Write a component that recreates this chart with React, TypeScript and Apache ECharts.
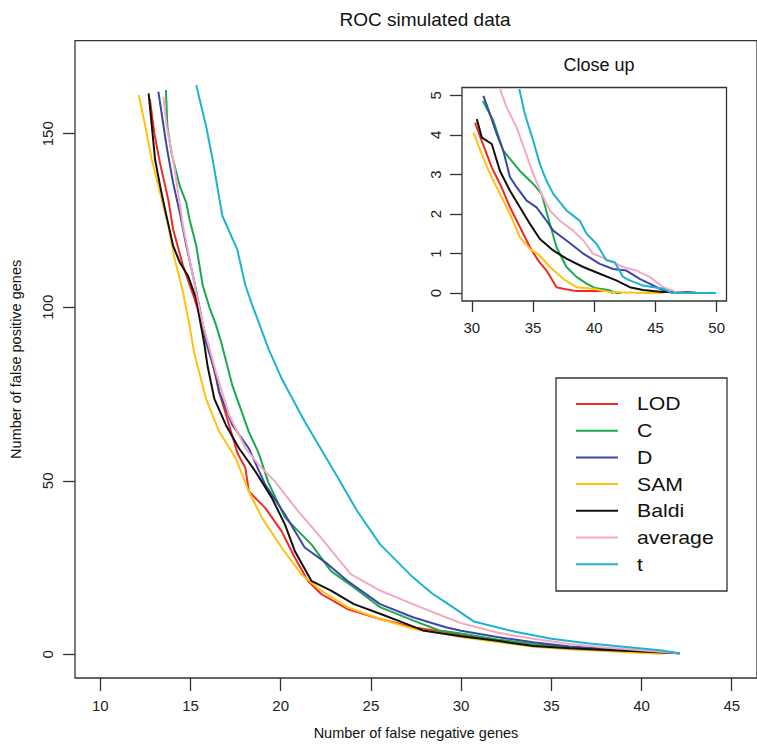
import React, { useEffect, useRef } from "react";
import * as echarts from "echarts";

const FONT = "Liberation Sans, Arial, Helvetica, sans-serif";

const seriesNames = ["LOD", "C", "D", "SAM", "Baldi", "average", "t"];
const seriesColors = ["#EE2A24", "#1BA94C", "#3A47A6", "#FFC20E", "#111111", "#F5A9BE", "#1CB3CF"];

// Main plot: [false negatives, false positives]
const mainLOD = [[12.75,160],[13.0,150],[13.31,141.6],[13.77,131],[14.04,122.4],[14.59,111.9],[15.23,102.4],[15.68,94.7],[16.14,86],[16.59,75.6],[17.14,66.1],[17.6,58],[18.05,53.6],[18.23,47],[19.14,42.2],[20.05,35.5],[20.78,27.9],[21.51,21.2],[22.24,17.4],[23.69,13.1],[25.51,10.2],[27.33,7.8],[29.15,6.4],[30,5.5],[32,4],[34,2.5],[36,1.6],[38,1.2],[40,0.8],[42.1,0.3]];
const mainC = [[13.64,162.6],[13.72,152.1],[13.95,144.4],[14.41,134.9],[14.77,130.1],[14.95,125.3],[15.32,117.7],[15.68,106.3],[16.05,100],[16.41,95],[16.7,90],[17.32,77.5],[18.23,64.2],[18.78,58],[19.32,49.5],[20.24,39.4],[21.7,31.7],[22.79,24],[24.06,19.3],[25.51,13.6],[27.33,9.8],[28.79,6.9],[30,6],[32,4.3],[34,3],[36,2],[38,1.4],[40,0.9],[42.1,0.3]];
const mainD = [[13.22,162.1],[13.4,155.9],[13.68,146.3],[14.04,135.8],[14.41,127.2],[14.77,117.7],[15.14,109.1],[15.5,100],[15.86,90],[16.41,80.4],[16.59,75.6],[17.32,66.1],[18.23,59.4],[19.14,48.9],[20.24,40.3],[21.33,30.8],[22.61,26],[23.69,21.2],[25.51,14.5],[27.33,10.7],[29.15,7.8],[30,6.8],[32,5],[34,3.5],[36,2.3],[38,1.6],[40,1.0],[42.1,0.3]];
const mainSAM = [[12.13,161.2],[12.5,152.1],[12.86,142.5],[13.32,132.9],[13.77,123.4],[14.13,113.8],[14.59,104.3],[14.95,94.7],[15.2,87],[15.86,73.7],[16.59,64.2],[17.5,56.6],[18.23,47],[18.96,39.4],[20.05,30.8],[21.14,23.1],[22.24,18.4],[23.69,13.6],[25.51,10.2],[27.33,7.4],[29.15,5.9],[30,5],[32,3.6],[34,2.2],[36,1.5],[38,1.0],[40,0.4],[41.2,0.2]];
const mainBaldi = [[12.68,161.6],[12.86,152.1],[13.04,142.5],[13.32,134.9],[13.59,128.2],[14.04,117.7],[14.41,112.9],[14.86,109.1],[15.32,102.4],[15.5,97],[15.75,90],[15.95,83],[16.32,73.7],[16.96,66.1],[17.69,59.4],[18.6,52.7],[19.51,45.1],[20.24,37.4],[20.78,29.8],[21.7,21.2],[22.79,18.4],[24.06,14.5],[25.51,11.7],[26.97,8.8],[27.88,6.9],[29.15,5.9],[30,5.2],[32,3.9],[34,2.4],[36,1.8],[38,1.3],[40,0.8],[42.1,0.3]];
const mainAverage = [[13.5,160.7],[13.68,152.1],[14.04,142.5],[14.32,132.9],[14.59,123.4],[14.95,113.8],[15.32,104.3],[15.69,95],[16.41,81.4],[17.14,69],[18.05,59.4],[18.78,54.6],[19.69,49.8],[20.96,41.3],[22.24,33.6],[23.88,23.1],[25.51,18.4],[27.33,14.5],[29.15,10.7],[30,9],[32,6.3],[34,4.5],[36,3],[38,2],[40,1.2],[42.1,0.3]];
const mainT = [[15.32,164],[15.87,152.1],[16.23,142.5],[16.77,126.3],[17.59,116.7],[18.05,106.2],[18.4,101],[18.9,94],[19.32,88.1],[20.05,79.5],[21.33,67.1],[22.97,52.7],[24.24,41.3],[25.51,31.7],[27.33,22.2],[28.43,17.4],[29.15,15],[30.7,9.5],[33,6.5],[35,4.5],[37,3.2],[39,2.2],[41,1.2],[42.1,0.3]];

// Close-up inset
const zoomLOD = [[30.27,4.31],[30.81,3.85],[31.63,3.18],[32.44,2.67],[33.12,2.17],[33.93,1.67],[34.75,1.16],[35.43,0.82],[36.1,0.57],[36.92,0.15],[37.46,0.11],[38.55,0.05],[41.26,0.05],[41.54,0]];
const zoomC = [[30.9,4.86],[31.76,4.36],[32.57,3.6],[33.93,3.09],[35.02,2.76],[35.7,2.51],[36.38,1.75],[36.92,1.16],[37.73,0.66],[38.55,0.41],[39.37,0.24],[40.04,0.13],[41.26,0.07],[41.8,0],[42.2,0]];
const zoomD = [[30.95,4.99],[31.49,4.52],[32.04,4.02],[32.57,3.6],[33.12,2.93],[33.66,2.68],[34.48,2.34],[35.29,2.17],[36.1,1.83],[36.65,1.58],[37.73,1.33],[39.1,1.0],[40.45,0.74],[41.54,0.61],[42.62,0.57],[43.71,0.36],[44.52,0.24],[45.34,0.11],[46.4,0]];
const zoomSAM = [[30.14,4.06],[30.81,3.52],[31.49,3.01],[32.3,2.51],[33.12,2.0],[33.93,1.41],[34.75,1.12],[35.56,0.95],[36.38,0.66],[37.46,0.36],[38.55,0.15],[39.9,0.11],[41.26,0.03],[43.98,0],[45.6,0]];
const zoomBaldi = [[30.41,4.4],[30.81,3.94],[31.63,3.77],[32.3,3.09],[33.12,2.59],[33.93,2.17],[34.75,1.75],[35.56,1.37],[36.65,1.08],[37.73,0.87],[39.1,0.66],[40.45,0.49],[41.8,0.32],[42.9,0.15],[43.98,0.08],[45.61,0.03],[47.5,0.03],[48.46,0]];
const zoomAverage = [[32.3,5.16],[32.85,4.69],[33.66,4.19],[34.34,3.6],[35.02,3.01],[35.7,2.51],[36.38,2.09],[37.19,1.83],[38.28,1.58],[39.1,1.33],[39.9,1.0],[41.26,0.82],[42.35,0.66],[43.44,0.57],[44.52,0.41],[45.61,0.15],[46.7,0.03],[48.05,0]];
const zoomT = [[33.88,5.16],[34.34,4.52],[35.02,3.85],[35.56,3.26],[36.1,2.84],[36.65,2.51],[37.73,2.09],[38.28,1.96],[38.82,1.83],[39.37,1.5],[40.18,1.25],[40.99,0.83],[41.67,0.78],[42.35,0.41],[42.9,0.32],[43.98,0.19],[45.61,0.11],[46.4,0],[49.95,0]];

const mainData = [mainLOD, mainC, mainD, mainSAM, mainBaldi, mainAverage, mainT];
const zoomData = [zoomLOD, zoomC, zoomD, zoomSAM, zoomBaldi, zoomAverage, zoomT];

const xTicksMain = [10, 15, 20, 25, 30, 35, 40, 45];
const yTicksMain = [0, 50, 100, 150];
const xTicksZoom = [30, 35, 40, 45, 50];
const yTicksZoom = [0, 1, 2, 3, 4, 5];

const AX = "#333";

function axisCommon(ticks: number[], tickLen: number, margin: number, rotate = 0) {
  return {
    axisLine: { show: false, onZero: false },
    splitLine: { show: false },
    axisTick: { show: true, customValues: ticks, length: tickLen, lineStyle: { color: AX, width: 1.3 } },
    axisLabel: { customValues: ticks, margin, rotate, fontSize: 15, color: "#222", fontFamily: FONT },
  };
}

export default function App() {
  const ref = useRef<HTMLDivElement>(null);
  useEffect(() => {
    if (!ref.current) return;
    const chart = echarts.init(ref.current, null, { renderer: "svg" });

    const legendTop = 378;
    const rowGap = 26.7;
    const legendGraphics: any[] = [
      {
        type: "rect",
        shape: { x: 556, y: legendTop, width: 171, height: 213 },
        style: { fill: "#fff", stroke: AX, lineWidth: 1.3 },
        z: 10,
      },
    ];
    seriesNames.forEach((n, i) => {
      const y = legendTop + 26 + i * rowGap;
      legendGraphics.push({
        type: "line",
        shape: { x1: 576, y1: y, x2: 618, y2: y },
        style: { stroke: seriesColors[i], lineWidth: 2 },
        z: 11,
      });
      legendGraphics.push({
        type: "text",
        x: 637,
        y,
        scaleX: 1.18,
        style: { text: n, fontSize: 18, fontFamily: FONT, fill: "#111", verticalAlign: "middle", align: "left" },
        z: 11,
      });
    });

    const series: any[] = [];
    seriesNames.forEach((n, i) => {
      series.push({
        name: n,
        type: "line",
        xAxisIndex: 0,
        yAxisIndex: 0,
        data: mainData[i],
        showSymbol: false,
        symbol: "none",
        lineStyle: { color: seriesColors[i], width: 2 },
        itemStyle: { color: seriesColors[i] },
        clip: true,
      });
      series.push({
        name: n + " (close up)",
        type: "line",
        xAxisIndex: 1,
        yAxisIndex: 1,
        data: zoomData[i],
        showSymbol: false,
        symbol: "none",
        lineStyle: { color: seriesColors[i], width: 2 },
        itemStyle: { color: seriesColors[i] },
        clip: true,
      });
    });

    chart.setOption({
      animation: false,
      backgroundColor: "#fff",
      title: [
        {
          text: "ROC simulated data",
          left: 420,
          top: 5,
          textAlign: "center",
          textStyle: { fontSize: 19, fontWeight: "normal", color: "#111", fontFamily: FONT },
        },
        {
          text: "Close up",
          left: 594,
          top: 51,
          textAlign: "center",
          textStyle: { fontSize: 18, fontWeight: "normal", color: "#111", fontFamily: FONT },
        },
      ],
      grid: [
        { left: 72.5, top: 40.7, right: -9.3, bottom: 64.5, show: true, borderColor: AX, borderWidth: 1.3, backgroundColor: "transparent" },
        { left: 462, top: 87.5, right: 30.5, bottom: 444, show: true, borderColor: AX, borderWidth: 1.3, backgroundColor: "#fff" },
      ],
      xAxis: [
        {
          type: "value",
          gridIndex: 0,
          position: "bottom",
          min: 8.6,
          max: 46.4,
          ...axisCommon(xTicksMain, 13, 20),
          name: "Number of false negative genes",
          nameLocation: "middle",
          nameGap: 47,
          nameTextStyle: { fontSize: 14.5, color: "#111", fontFamily: FONT },
        },
        {
          type: "value",
          gridIndex: 1,
          position: "bottom",
          min: 29.2,
          max: 50.8,
          ...axisCommon(xTicksZoom, 11, 19),
        },
      ],
      yAxis: [
        {
          type: "value",
          gridIndex: 0,
          position: "left",
          min: -6.8,
          max: 176.8,
          ...axisCommon(yTicksMain, 12, 20, 90),
          name: "Number of false positive genes",
          nameLocation: "middle",
          nameGap: 52,
          nameTextStyle: { fontSize: 14.5, color: "#111", fontFamily: FONT },
        },
        {
          type: "value",
          gridIndex: 1,
          position: "left",
          min: -0.2,
          max: 5.2,
          ...axisCommon(yTicksZoom, 12, 19, 90),
        },
      ],
      graphic: legendGraphics,
      series,
    });
    return () => chart.dispose();
  }, []);
  return <div ref={ref} style={{ position: "fixed", left: 0, top: 0, width: 757, height: 745 }} />;
}
